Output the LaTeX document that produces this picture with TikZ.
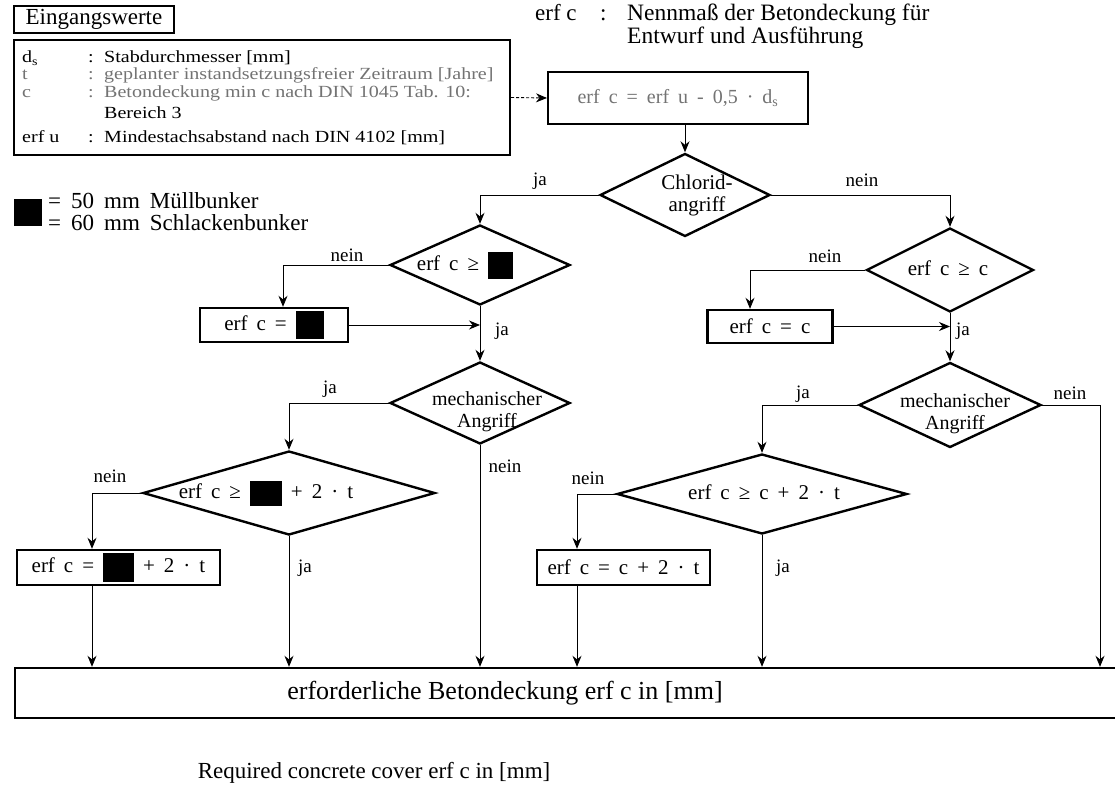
\documentclass[tikz,border=0pt]{standalone}
\usepackage{fontspec}
\setmainfont{Liberation Serif}
\newfontfamily\widefont{Liberation Serif}[FakeStretch=1.18]
\usetikzlibrary{shapes.geometric,arrows.meta}
\newcommand{\fs}[2]{\fontsize{#1}{#2}\selectfont}
\newcommand{\blk}[2]{\raisebox{\dimexpr 5pt-#2pt/2\relax}{\rule{#1pt}{#2pt}}}
\begin{document}
\begin{tikzpicture}[x=1pt,y=-1pt,
 dia/.style 2 args={draw,diamond,line width=2.4pt,inner sep=0pt,minimum width=#1,minimum height=#2},
 box/.style 2 args={draw,rectangle,line width=2.4pt,inner sep=0pt,minimum width=#1,minimum height=#2},
 txt/.style={inner sep=0pt,font=\fs{21}{22}},
 frm/.style={inner sep=0pt,font={\fs{21}{22}\spaceskip=9pt\relax}},
 inrow/.style={anchor=base west,inner sep=0pt,font={\widefont\fs{17}{18}}},
 greyrow/.style={inrow,text=black!55},
 lbl/.style={inner sep=0pt,font=\fs{19}{20}},
 conn/.style={line width=0.9pt},
 arr/.style={conn,-{Stealth[length=11pt,width=9pt]}},
]
\useasboundingbox (0,0) rectangle (1115,786);
\fill[white] (0,0) rectangle (1115,786);
\clip (0,0) rectangle (1115,786);

% input values
\node[box={160}{27},line width=1.6pt,font=\fs{23}{24}] (ein) at (94,19.5) {Eingangswerte};
\node[box={496}{115},line width=2pt] (inp) at (262,97.5) {};
\node[inrow] (r1a) at (22,63) {d\textsubscript{s}};
\node[inrow] (r1b) at (88,63) {:};
\node[inrow] (r1c) at (104,63) {Stabdurchmesser [mm]};
\node[greyrow] (r2a) at (22,80) {t};
\node[greyrow] (r2b) at (88,80) {:};
\node[greyrow] (r2c) at (104,80) {geplanter instandsetzungsfreier Zeitraum [Jahre]};
\node[greyrow] (r3a) at (22,98) {c};
\node[greyrow] (r3b) at (88,98) {:};
\node[greyrow] (r3c) at (104,98) {Betondeckung min c nach DIN 1045 Tab. 10:};
\node[inrow] (r4c) at (104,119) {Bereich 3};
\node[inrow] (r5a) at (22,143) {erf u};
\node[inrow] (r5b) at (88,143) {:};
\node[inrow] (r5c) at (104,143) {Mindestachsabstand nach DIN 4102 [mm]};

% top right definition
\node[anchor=base west,inner sep=0pt,font=\fs{23}{24}] (ec) at (535,21) {erf c};
\node[anchor=base west,inner sep=0pt,font=\fs{23}{24}] (ecol) at (600,21) {:};
\node[anchor=base west,inner sep=0pt,font=\fs{23.5}{24}] (nm) at (627,21) {Nennmaß der Betondeckung für};
\node[anchor=base west,inner sep=0pt,font=\fs{23.5}{24}] (ea) at (627,44) {Entwurf und Ausführung};

% legend
\node[fill=black,minimum width=28,minimum height=27,inner sep=0pt] (leg) at (28,212.5) {};
\node[anchor=base west,inner sep=0pt,font={\fs{23}{23}\spaceskip=10pt\relax}] (l1) at (48,209) {= 50 mm Müllbunker};
\node[anchor=base west,inner sep=0pt,font={\fs{23}{23}\spaceskip=10pt\relax}] (l2) at (48,230) {= 60 mm Schlackenbunker};

% first box
\node[box={260}{52},line width=2pt,font={\fs{20}{22}\spaceskip=9pt\relax},text=black!55] (b2) at (678,98) {erf c = erf u - 0,5 · d\textsubscript{s}};

% diamonds
\node[dia={170}{83}] (d1) at (685,195) {};
\node[txt,align=center] (d1t) at (697,195) {Chlorid-\\angriff};
\node[dia={180}{80}] (d2) at (480,265) {};
\node[frm] (d2t) at (465,265) {erf c ≥ \blk{25}{27}};
\node[dia={167}{84}] (d3) at (950,270) {};
\node[frm] (d3t) at (948,268) {erf c ≥ c};
\node[dia={180}{82}] (d4) at (480,403) {};
\node[txt,align=center,font=\fs{20}{22}] (d4t) at (487,412) {mechanischer\\Angriff};
\node[dia={182}{85}] (d5) at (950,405) {};
\node[txt,align=center,font=\fs{20}{22}] (d5t) at (955,414) {mechanischer\\Angriff};
\node[dia={292}{84}] (d6) at (289,493) {};
\node[frm] (d6t) at (266,493) {erf c ≥ \blk{32}{25} + 2 · t};
\node[dia={290}{80}] (d7) at (762,494) {};
\node[frm] (d7t) at (764,492) {erf c ≥ c + 2 · t};

% boxes
\node[box={148}{34},frm] (b3) at (274,325) {erf c = \blk{28}{28}\hspace{8pt}};
\node[box={125}{33},frm] (b5) at (770,326.5) {erf c = c};
\node[box={203}{35},frm] (b7) at (118.5,567.5) {erf c = \blk{31}{29} + 2 · t};
\node[box={173}{35},frm] (b8) at (623.5,567.5) {erf c = c + 2 · t};

% final box
\node[box={1120}{50}] (fin) at (575,693) {};
\node[inner sep=0pt,font=\fs{26}{28}] (fint) at (505,693) {erforderliche Betondeckung erf c in [mm]};
\node[inner sep=0pt,font=\fs{23}{25}] (cap) at (374,773) {Required concrete cover erf c in [mm]};

\coordinate (rx) at (1100,0);

% connectors
\draw[arr,densely dashed] (inp.east) -- (b2.west);
\draw[arr] (b2.south -| d1.north) -- (d1.north);
\draw[arr] (d1.west) -| (d2.north);
\draw[arr] (d1.east) -| (d3.north);
\draw[arr] (d2.west) -| ([xshift=9pt]b3.north);
\draw[arr] (d3.west) -| ([xshift=-20pt]b5.north);
\draw[arr] (d2.south) -- (d4.north);
\draw[arr] (d3.south) -- (d5.north);
\draw[arr] (b3.east) -- (b3.east -| d2.south);
\draw[arr] (b5.east) -- (b5.east -| d3.south);
\draw[arr] (d4.west) -| (d6.north);
\draw[arr] (d5.west) -| (d7.north);
\draw[arr] (d5.east) -| (rx |- fin.north);
\draw[arr] (d4.south) -- (d4.south |- fin.north);
\draw[arr] (d6.west) -| ([xshift=-26.5pt]b7.north);
\draw[arr] (d7.west) -| ([xshift=-46.5pt]b8.north);
\draw[arr] (d6.south) -- (d6.south |- fin.north);
\draw[arr] (d7.south) -- (d7.south |- fin.north);
\draw[arr] ([xshift=-26.5pt]b7.south) -- ([xshift=-26.5pt]b7.south |- fin.north);
\draw[arr] ([xshift=-46.5pt]b8.south) -- ([xshift=-46.5pt]b8.south |- fin.north);

% labels
\node[lbl] (la1) at (540,181) {ja};
\node[lbl] (la2) at (862,180) {nein};
\node[lbl] (la3) at (347,255) {nein};
\node[lbl] (la4) at (502,331) {ja};
\node[lbl] (la5) at (330,389) {ja};
\node[lbl] (la6) at (505,466) {nein};
\node[lbl] (la7) at (110,476) {nein};
\node[lbl] (la8) at (305,568) {ja};
\node[lbl] (la9) at (825,256) {nein};
\node[lbl] (la10) at (963,331) {ja};
\node[lbl] (la11) at (803,394) {ja};
\node[lbl] (la12) at (1070,393) {nein};
\node[lbl] (la13) at (588,478) {nein};
\node[lbl] (la14) at (783,568) {ja};
\end{tikzpicture}
\end{document}
